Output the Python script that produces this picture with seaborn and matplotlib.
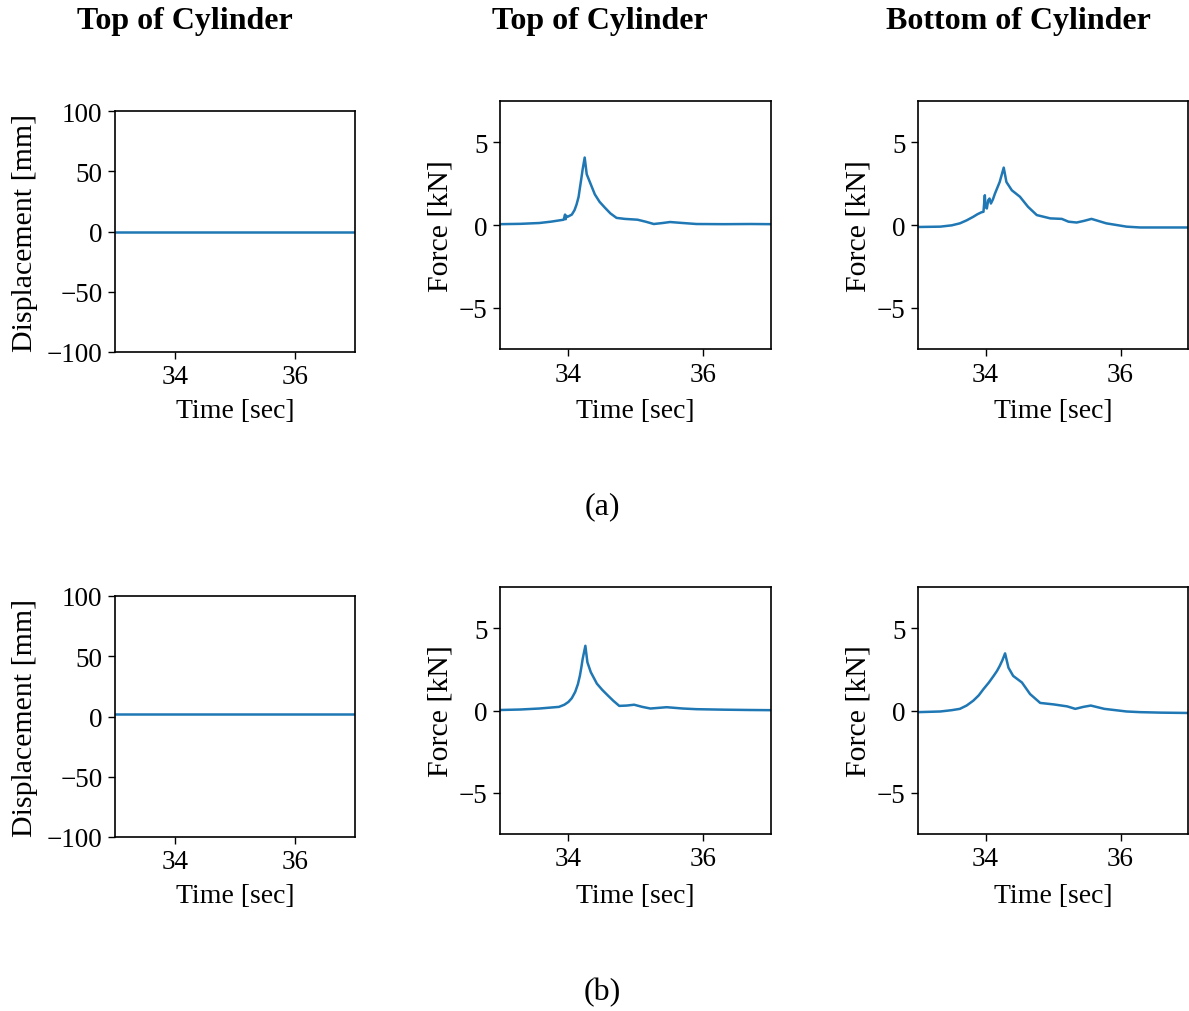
import numpy as np
import pandas as pd
import seaborn as sns
import matplotlib
matplotlib.use("Agg")
import matplotlib.pyplot as plt

# ---------------- data ----------------
disp_time = [33.0, 37.0]
disp_a = [0.0, 0.0]
disp_b = [2.0, 2.0]

top_a_t = [33.0, 33.3, 33.58, 33.75, 33.94, 33.96, 33.97, 33.98, 34.0, 34.06, 34.10, 34.13, 34.16,
           34.18, 34.20, 34.22, 34.25, 34.28, 34.33, 34.40, 34.47, 34.55, 34.63, 34.72, 34.84,
           35.03, 35.15, 35.27, 35.40, 35.51, 35.70, 35.90, 36.3, 36.7, 37.0]
top_a_f = [0.05, 0.07, 0.12, 0.2, 0.32, 0.63, 0.35, 0.55, 0.5, 0.63, 0.9, 1.24, 1.7,
           2.26, 2.8, 3.37, 4.08, 3.07, 2.56, 1.85, 1.4, 1.04, 0.7, 0.43, 0.37,
           0.32, 0.2, 0.06, 0.12, 0.18, 0.12, 0.06, 0.05, 0.06, 0.05]

bot_a_t = [33.0, 33.33, 33.50, 33.62, 33.72, 33.82, 33.88, 33.94, 33.97, 33.99, 34.00, 34.02,
           34.04, 34.06, 34.08, 34.11, 34.14, 34.21, 34.27, 34.31, 34.39, 34.51, 34.63, 34.76,
           34.96, 35.13, 35.23, 35.35, 35.46, 35.57, 35.79, 36.09, 36.29, 36.6, 37.0]
bot_a_f = [-0.12, -0.1, -0.02, 0.1, 0.28, 0.5, 0.65, 0.77, 0.8, 1.8, 1.1, 1.0,
           1.5, 1.6, 1.3, 1.55, 1.9, 2.6, 3.47, 2.6, 2.1, 1.71, 1.1, 0.6,
           0.4, 0.37, 0.2, 0.15, 0.25, 0.37, 0.1, -0.1, -0.15, -0.15, -0.15]

top_b_t = [33.0, 33.3, 33.58, 33.87, 33.95, 34.01, 34.06, 34.11, 34.15, 34.18, 34.20, 34.22,
           34.26, 34.29, 34.34, 34.43, 34.51, 34.59, 34.67, 34.76, 34.87, 34.98, 35.10, 35.22,
           35.46, 35.70, 35.90, 36.3, 36.7, 37.0]
top_b_f = [0.03, 0.06, 0.12, 0.22, 0.35, 0.52, 0.75, 1.13, 1.6, 2.13, 2.6, 3.13,
           3.93, 2.93, 2.33, 1.63, 1.25, 0.92, 0.6, 0.28, 0.3, 0.35, 0.22, 0.12,
           0.2, 0.12, 0.08, 0.05, 0.03, 0.02]

bot_b_t = [33.0, 33.33, 33.50, 33.62, 33.72, 33.82, 33.90, 33.97, 34.05, 34.12, 34.17, 34.21,
           34.25, 34.29, 34.34, 34.41, 34.54, 34.66, 34.81, 35.01, 35.21, 35.33, 35.45, 35.56,
           35.76, 36.09, 36.29, 36.6, 37.0]
bot_b_f = [-0.1, -0.06, 0.02, 0.1, 0.3, 0.6, 0.92, 1.3, 1.7, 2.1, 2.4, 2.7,
           3.05, 3.47, 2.6, 2.1, 1.7, 1.0, 0.46, 0.37, 0.25, 0.1, 0.22, 0.3,
           0.1, -0.06, -0.1, -0.13, -0.15]

titles = ["Top of Cylinder", "Top of Cylinder", "Bottom of Cylinder"]
captions = ["(a)", "(b)"]
xticks = [34, 36]
disp_ticks = [-100, -50, 0, 50, 100]
force_ticks = [-5, 0, 5]

# ---------------- style ----------------
sns.set_theme(style="ticks")
plt.rcParams["font.family"] = ["Liberation Serif", "DejaVu Serif"]
plt.rcParams["text.color"] = "black"
plt.rcParams["axes.labelcolor"] = "black"
plt.rcParams["axes.edgecolor"] = "black"
plt.rcParams["axes.linewidth"] = 1.2
plt.rcParams["xtick.color"] = "black"
plt.rcParams["ytick.color"] = "black"
plt.rcParams["xtick.labelcolor"] = "black"
plt.rcParams["ytick.labelcolor"] = "black"
plt.rcParams["xtick.major.size"] = 5
plt.rcParams["ytick.major.size"] = 5
plt.rcParams["xtick.major.width"] = 1.0
plt.rcParams["ytick.major.width"] = 1.0

TICK_FS = 19.5
XLAB_FS = 20
YLAB_FS = 21.5
TITLE_FS = 23
CAP_FS = 23
W, H = 1189, 1012
fig = plt.figure(figsize=(W / 100, H / 100), dpi=100)
fig.patch.set_facecolor("white")

def rect(x0, y0, x1, y1):
    return [x0 / W, 1 - y1 / H, (x1 - x0) / W, (y1 - y0) / H]

color = "#1f77b4"

rows = [
    dict(disp=disp_a, top=(top_a_t, top_a_f), bot=(bot_a_t, bot_a_f),
         drect=(115, 112, 355, 353), frect_y=(102, 350)),
    dict(disp=disp_b, top=(top_b_t, top_b_f), bot=(bot_b_t, bot_b_f),
         drect=(115, 597, 355, 838), frect_y=(588, 835)),
]

def style_ax(ax, xpad):
    for s in ax.spines.values():
        s.set_visible(True)
        s.set_color("black")
    ax.tick_params(labelsize=TICK_FS, pad=4)
    ax.set_xlim(33, 37)
    ax.set_xticks(xticks)
    ax.set_xticklabels([str(t) for t in xticks])
    ax.set_xlabel("Time [sec]", fontsize=XLAB_FS, labelpad=xpad)

for r in rows:
    ax = fig.add_axes(rect(*r["drect"]))
    df = pd.DataFrame({"t": disp_time, "v": r["disp"]})
    sns.lineplot(data=df, x="t", y="v", ax=ax, color=color, linewidth=1.8)
    style_ax(ax, 6)
    ax.set_ylim(-100, 100)
    ax.set_yticks(disp_ticks)
    ax.set_yticklabels([str(v).replace("-", "\u2212") for v in disp_ticks])
    ax.set_ylabel("Displacement [mm]", fontsize=YLAB_FS, labelpad=6)

    y0, y1 = r["frect_y"]
    for (tt, ff), x0, x1 in [(r["top"], 500, 771), (r["bot"], 918, 1188)]:
        ax = fig.add_axes(rect(x0, y0, x1, y1))
        df = pd.DataFrame({"t": tt, "v": ff})
        sns.lineplot(data=df, x="t", y="v", ax=ax, color=color, linewidth=1.8)
        style_ax(ax, 8)
        ax.set_ylim(-7.5, 7.5)
        ax.set_yticks(force_ticks)
        ax.set_yticklabels([str(v).replace("-", "\u2212") for v in force_ticks])
        ax.set_ylabel("Force [kN]", fontsize=YLAB_FS, labelpad=4)

for x, t in zip([185, 600, 1018], titles):
    fig.text(x / W, 1 - 22 / H, t, ha="center", va="center", fontsize=TITLE_FS, fontweight="bold")

fig.text(602 / W, 1 - 507 / H, captions[0], ha="center", va="center", fontsize=CAP_FS)
fig.text(602 / W, 1 - 993 / H, captions[1], ha="center", va="center", fontsize=CAP_FS)

fig.savefig("out.png", dpi=100, facecolor="white")
